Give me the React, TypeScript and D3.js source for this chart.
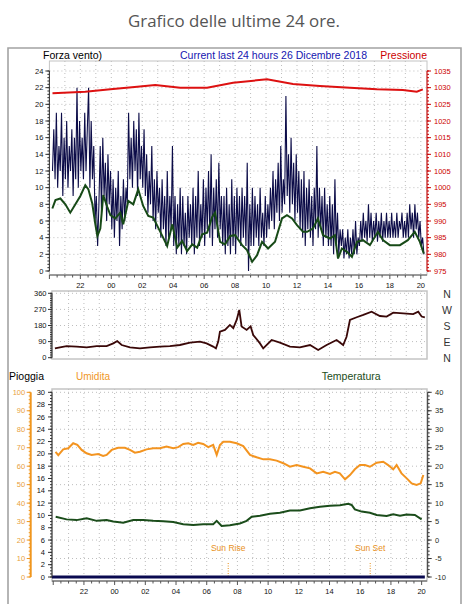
import React from "react";
import * as d3 from "d3";

const FONT = "'Liberation Sans', Arial, sans-serif";

// ---------- DATA ----------
const hourLabels = ["22", "00", "02", "04", "06", "08", "10", "12", "14", "16", "18", "20"];
const hourLabelTimes = [-2, 0, 2, 4, 6, 8, 10, 12, 14, 16, 18, 20];

const windTicks = [0, 2, 4, 6, 8, 10, 12, 14, 16, 18, 20, 22, 24];
const pressureTicks = [975, 980, 985, 990, 995, 1000, 1005, 1010, 1015, 1020, 1025, 1030, 1035];
const dirTicks = [0, 90, 180, 270, 360];
const compassLabels = ["N", "E", "S", "W", "N"]; // at 0, 90, 180, 270, 360
const rainTicks = [0, 2, 4, 6, 8, 10, 12, 14, 16, 18, 20, 22, 24, 26, 28, 30];
const humTicks = [0, 10, 20, 30, 40, 50, 60, 70, 80, 90, 100];
const tempTicks = [-10, -5, 0, 5, 10, 15, 20, 25, 30, 35, 40];

// wind gust, 5-minute samples starting at 20:12 (hour -3.8); one row per hour
const gustStart = -3.8;
const gustStep = 1 / 12;
const gustValues = [
  12, 17, 11, 19, 10, 15, 12, 19, 9, 16, 11, 18,
  10, 15, 12, 17, 9, 16, 11, 22, 10, 18, 12, 16,
  11, 19, 12, 17, 22, 10, 18, 11, 15, 6, 9, 3,
  8, 15, 7, 16, 9, 13, 6, 14, 8, 12, 5, 11,
  4, 10, 6, 12, 3, 9, 5, 11, 6, 10, 8, 19,
  11, 16, 10, 18, 12, 17, 9, 19, 11, 15, 10, 17,
  9, 14, 7, 12, 8, 15, 6, 11, 5, 12, 7, 10,
  4, 11, 5, 9, 3, 12, 4, 9, 5, 15, 3, 9,
  2, 8, 3, 10, 2, 9, 3, 7, 2, 9, 4, 8,
  3, 10, 2, 9, 4, 12, 3, 8, 4, 11, 3, 10,
  5, 12, 4, 14, 3, 10, 5, 11, 4, 13, 5, 9,
  3, 9, 2, 10, 3, 8, 2, 11, 3, 9, 2, 10,
  4, 9, 3, 10, 4, 9, 3, 13, 0, 8, 3, 10,
  3, 9, 4, 8, 3, 10, 4, 7, 3, 9, 4, 8,
  5, 10, 6, 12, 5, 11, 7, 13, 6, 15, 7, 11,
  8, 21, 9, 14, 7, 16, 8, 13, 6, 14, 7, 12,
  5, 11, 4, 12, 3, 10, 5, 11, 4, 9, 3, 10,
  5, 15, 4, 10, 5, 9, 3, 10, 4, 8, 3, 9,
  3, 8, 2, 11, 3, 7, 2, 5, 3, 5, 1.5, 4,
  2, 5, 1.5, 4, 2, 5, 2, 6, 2, 4, 3, 6,
  3.5, 7, 4, 6, 3.5, 8, 4, 7, 3.5, 6, 4, 7,
  3.5, 6, 4, 7, 3.5, 6, 4, 7, 4, 6, 4, 7,
  4, 6, 4, 7, 4, 6, 5, 7, 4, 6, 4, 7,
  4, 8, 5, 7, 4, 8, 5, 7, 4, 6, 3, 4,
  2,
];

const windAvgHours = [
  -3.81, -3.61, -3.29, -2.97, -2.65, -2.32, -2.0, -1.68, -1.48, -1.23, -1.03, -0.9, -0.71, -0.52, -0.26,
  -0.06, 0.26, 0.58, 0.77, 1.1, 1.42, 1.74, 2.06, 2.39, 2.71, 3.03, 3.35, 3.61, 3.94, 4.26, 4.58, 4.9,
  5.23, 5.55, 5.87, 6.19, 6.52, 6.71, 7.03, 7.35, 7.68, 8.0, 8.45, 8.77, 9.1, 9.42, 9.74, 10.13, 10.58,
  11.03, 11.35, 11.68, 12.0, 12.39, 12.65, 13.03, 13.35, 13.68, 14.13, 14.45, 14.65, 14.9, 15.23, 15.55,
  15.87, 16.26, 16.71, 17.23, 17.55, 18.0, 18.65, 19.16, 19.61, 19.94, 20.19,
];
const windAvgValues = [
  7.5, 8.5, 8.7, 8, 7, 8, 9, 10.3, 9.8, 8.1, 5.6, 4.2, 5.1, 9.1, 7.7,
  6.7, 6.3, 7, 5.6, 8.4, 8, 9.8, 7.8, 6.6, 6.4, 5.2, 4, 3, 5.6, 2.8, 3.6, 2.4,
  3.2, 2.8, 4.4, 4.6, 6.5, 7, 3.5, 3.2, 4.2, 4.3, 3.1, 2.5, 1.1, 1.9, 3.5, 2.7, 3.5,
  6.3, 6.7, 6.3, 5.5, 4.7, 4.7, 5.1, 6.3, 4.3, 3.9, 4.3, 1.5, 2.7, 2.3, 1.7,
  3.5, 3.7, 3.1, 4.7, 3.7, 3.1, 3.1, 3.7, 4.7, 3.5, 2.1,
];

const pressureHours = [-3.8, -1.68, -0.06, 1.68, 2.84, 4.45, 6.19, 7.87, 10.06, 11.74, 13.48, 15.42, 17.16, 18.84, 19.74, 20.13];
const pressureValues = [1028.3, 1028.8, 1029.5, 1030.3, 1030.8, 1030, 1030, 1031.5, 1032.5, 1031.1, 1030.5, 1030, 1029.5, 1029.3, 1028.8, 1029.5];

const dirHours = [
  -3.89, -3.56, -3.13, -2.48, -1.82, -1.17, -0.52, -0.09, 0.17, 0.46, 1.0, 1.65, 2.3, 2.95, 3.6, 4.25,
  4.91, 5.56, 5.99, 6.42, 6.6, 6.75, 6.86, 7.19, 7.51, 7.73, 7.95, 8.12, 8.27, 8.6, 8.86, 9.03, 9.47,
  9.68, 10.23, 10.77, 11.42, 12.07, 12.73, 13.26, 13.81, 14.46, 14.89, 15.11, 15.33, 15.77, 16.2, 16.74,
  17.28, 17.72, 18.15, 18.8, 19.45, 19.78, 20.0, 20.21,
];
const dirValues = [
  52, 58, 65, 62, 58, 65, 65, 80, 93, 71, 58, 52, 58, 62, 65, 71,
  84, 90, 80, 62, 52, 90, 145, 155, 183, 165, 211, 267, 175, 155, 175, 127, 80,
  52, 99, 84, 62, 58, 71, 43, 71, 99, 71, 117, 211, 226, 239, 257,
  233, 230, 252, 248, 244, 257, 230, 226,
];

const humHours = [
  -3.85, -3.67, -3.35, -3.02, -2.7, -2.43, -2.15, -1.83, -1.5, -1.07, -0.75, -0.52, -0.19, 0.23, 0.67,
  1.0, 1.32, 1.65, 2.08, 2.52, 2.95, 3.38, 3.82, 4.14, 4.47, 4.8, 5.12, 5.44, 5.77, 6.1, 6.42, 6.65,
  6.86, 7.08, 7.51, 7.95, 8.38, 8.82, 9.25, 9.69, 10.12, 10.55, 10.99, 11.42, 11.86, 12.29, 12.73,
  13.16, 13.59, 14.03, 14.35, 14.67, 15.01, 15.33, 15.65, 15.98, 16.31, 16.63, 17.07, 17.5, 17.82,
  18.15, 18.37, 18.69, 19.03, 19.35, 19.67, 19.94, 20.11,
];
const humValues = [
  67.8, 66, 69.1, 69.7, 72.4, 71.5, 68.8, 67, 66.1, 66.6, 65.5, 66.1, 68.8, 70, 70,
  68.8, 67.3, 67.8, 69.1, 69.7, 69.7, 70.6, 69.7, 70.3, 72, 72.4, 71.5, 72.7, 72, 70.3, 71.5, 66.1,
  71.5, 73.2, 73.2, 72.4, 70.9, 66.1, 64.8, 63.7, 63.7, 63, 61.6, 59.7, 60.6, 59.7, 58.8,
  56.1, 57, 55.8, 57, 56.1, 52.9, 55.2, 58.3, 60.6, 60.6, 59.7, 61.9, 62.4, 60.6,
  58.3, 60.6, 56.1, 53.4, 50.7, 49.8, 50.7, 55.2,
];

const tempHours = [
  -3.84, -3.13, -2.48, -1.82, -1.17, -0.52, -0.09, 0.56, 1.21, 1.86, 2.51, 3.17, 3.82, 4.47, 5.12,
  5.77, 6.42, 6.65, 6.97, 7.51, 8.16, 8.6, 8.93, 9.47, 10.12, 10.77, 11.42, 12.07, 12.73, 13.38,
  14.03, 14.68, 15.22, 15.44, 15.65, 16.09, 16.63, 17.07, 17.72, 18.15, 18.59, 19.02, 19.56, 20.0,
];
const tempValues = [
  6.3, 5.6, 5.4, 5.9, 5.2, 5.4, 5.0, 4.7, 5.4, 5.4, 5.2, 5.1, 4.9, 4.3, 4.1,
  4.3, 4.3, 5.2, 3.8, 4.0, 4.5, 5.2, 6.3, 6.6, 7.1, 7.4, 8.0, 8.0, 8.6, 9.0,
  9.3, 9.4, 9.8, 9.5, 8.3, 7.7, 7.4, 6.8, 6.5, 7.0, 6.6, 6.9, 6.8, 5.6,
];

const rainHours = [-4.08, 20.21];
const rainValues = [0, 0];

const sunLabels = ["Sun Rise", "Sun Set"];
const sunHours = [7.4, 16.65];

// ---------- LAYOUT / SCALES ----------
const xTop = d3.scaleLinear().domain([-4, 20.4]).range([49.4, 427]);
const xLow = d3.scaleLinear().domain([-4.08, 20.35]).range([52, 427]);
const yWind = d3.scaleLinear().domain([0, 24]).range([271, 71]);
const yPress = d3.scaleLinear().domain([975, 1035]).range([271, 71]);
const yDir = d3.scaleLinear().domain([0, 360]).range([357.7, 293.3]);
const yRain = d3.scaleLinear().domain([0, 30]).range([577, 392.3]);
const yHum = d3.scaleLinear().domain([0, 100]).range([577, 392.3]);
const yTemp = d3.scaleLinear().domain([-10, 40]).range([577, 392.3]);

const GRID = "#bdbdbd";
const FRAME = "#c4c4c4";

const zip = (a: number[], b: number[]) => a.map((v, i) => [v, b[i]] as [number, number]);

function linePath(pts: [number, number][], x: d3.ScaleLinear<number, number>, y: d3.ScaleLinear<number, number>) {
  return d3.line<[number, number]>().x((d) => x(d[0])).y((d) => y(d[1]))(pts) || "";
}

const hourGrid = d3.range(-3, 20.01, 1);
const halfHours = d3.range(-4, 20.41, 0.5);

function VGrid({ x, y1, y2 }: { x: d3.ScaleLinear<number, number>; y1: number; y2: number }) {
  return (
    <g>
      {hourGrid.map((h) => (
        <line key={h} x1={x(h)} x2={x(h)} y1={y1} y2={y2} stroke={GRID} strokeDasharray="1 3" />
      ))}
    </g>
  );
}

function HGrid({ ys, x1, x2 }: { ys: number[]; x1: number; x2: number }) {
  return (
    <g>
      {ys.map((y, i) => (
        <line key={i} x1={x1} x2={x2} y1={y} y2={y} stroke={GRID} strokeDasharray="1 3" />
      ))}
    </g>
  );
}

function XAxis({ x, y }: { x: d3.ScaleLinear<number, number>; y: number }) {
  const [d0, d1] = x.domain();
  return (
    <g>
      <line x1={x(d0)} x2={x(d1)} y1={y} y2={y} stroke="#555" />
      {halfHours
        .filter((h) => h >= d0 && h <= d1)
        .map((h) => (
          <line key={h} x1={x(h)} x2={x(h)} y1={y} y2={y + (Number.isInteger(h) && h % 2 === 0 ? 4 : 2.5)} stroke="#555" />
        ))}
      {hourLabelTimes.map((h, i) => (
        <text key={h} x={x(h)} y={y + 12.5} textAnchor="middle" fontSize={7.5} fill="#111">
          {hourLabels[i]}
        </text>
      ))}
    </g>
  );
}

function YAxis({
  x, ticks, minorStep, scale, side, color, labelColor, labelOffset, lineWidth = 1, tickLen = 4,
}: {
  x: number; ticks: number[]; minorStep: number; scale: d3.ScaleLinear<number, number>; side: "left" | "right";
  color: string; labelColor: string; labelOffset: number; lineWidth?: number; tickLen?: number;
}) {
  const [d0, d1] = scale.domain();
  const dir = side === "left" ? -1 : 1;
  const minors = d3.range(d0, d1 + minorStep / 2, minorStep);
  return (
    <g>
      <line x1={x} x2={x} y1={scale(d0)} y2={scale(d1)} stroke={color} strokeWidth={lineWidth} />
      {minors.map((v, i) => (
        <line key={"m" + i} x1={x} x2={x + dir * 2} y1={scale(v)} y2={scale(v)} stroke={color} />
      ))}
      {ticks.map((v) => (
        <line key={"t" + v} x1={x} x2={x + dir * tickLen} y1={scale(v)} y2={scale(v)} stroke={color} />
      ))}
      {ticks.map((v) => (
        <text
          key={"l" + v}
          x={x + dir * labelOffset}
          y={scale(v)}
          dy="0.35em"
          textAnchor={side === "left" ? "end" : "start"}
          fontSize={7.5}
          fill={labelColor}
        >
          {v}
        </text>
      ))}
    </g>
  );
}

export default function App() {
  const gustPts = gustValues.map((v, i) => [gustStart + i * gustStep, v] as [number, number]);
  return (
    <svg
      width={468}
      height={604}
      style={{ position: "absolute", left: 0, top: 0, background: "#fff" }}
      fontFamily={FONT}
    >
      <rect width={468} height={604} fill="#fff" />
      <text x={128} y={27} fontSize={16.5} fill="#555" fontFamily="'Open Sans', 'DejaVu Sans', sans-serif" textLength={212} lengthAdjust="spacingAndGlyphs">
        Grafico delle ultime 24 ore.
      </text>
      <path d="M8,605 V48 H461 V605" fill="none" stroke="#a3a3a3" strokeWidth={1.6} />

      {/* ---------- TOP PANEL ---------- */}
      <rect x={49.4} y={61} width={427 - 49.4} height={275 - 61} fill="none" stroke={FRAME} />
      <VGrid x={xTop} y1={61} y2={275} />
      <HGrid ys={windTicks.filter((t) => t > 0).map((t) => yWind(t))} x1={49.4} x2={427} />
      <text x={43} y={59} fontSize={10.5} fill="#000" textLength={59} lengthAdjust="spacingAndGlyphs">Forza vento)</text>
      <text x={180} y={59} fontSize={10.5} fill="#1515b0" textLength={187} lengthAdjust="spacingAndGlyphs">
        Current last 24 hours 26 Dicembre 2018
      </text>
      <text x={427} y={59} fontSize={10.5} fill="#cc0000" textAnchor="end">Pressione</text>

      <path d={linePath(gustPts, xTop, yWind)} fill="none" stroke="#0c0c48" strokeWidth={1.1} strokeLinejoin="miter" />
      <path d={linePath(zip(windAvgHours, windAvgValues), xTop, yWind)} fill="none" stroke="#174a17" strokeWidth={2} />
      <path d={linePath(zip(pressureHours, pressureValues), xTop, yPress)} fill="none" stroke="#dd1111" strokeWidth={2} />

      <YAxis x={49.4} ticks={windTicks} minorStep={0.4} scale={yWind} side="left" color="#333" labelColor="#111" labelOffset={6} />
      <YAxis x={427} ticks={pressureTicks} minorStep={1} scale={yPress} side="right" color="#cc0000" labelColor="#cc0000" labelOffset={7} />
      <XAxis x={xTop} y={275} />

      {/* ---------- MIDDLE PANEL ---------- */}
      <rect x={52} y={291} width={427 - 52} height={359 - 291} fill="none" stroke={FRAME} strokeWidth={1.5} />
      <VGrid x={xLow} y1={291} y2={359} />
      <HGrid ys={dirTicks.filter((t) => t > 0).map((t) => yDir(t))} x1={52} x2={427} />
      <path d={linePath(zip(dirHours, dirValues), xLow, yDir)} fill="none" stroke="#3a0808" strokeWidth={1.8} />
      <YAxis x={52} ticks={dirTicks} minorStep={10} scale={yDir} side="left" color="#333" labelColor="#111" labelOffset={5.5} />
      {dirTicks.map((t, i) => (
        <text key={t} x={447} y={yDir(t) + 1} dy="0.35em" textAnchor="middle" fontSize={10.5} fill="#333">
          {compassLabels[i]}
        </text>
      ))}

      {/* ---------- BOTTOM PANEL ---------- */}
      <text x={9} y={380} fontSize={10.5} fill="#000" textLength={35} lengthAdjust="spacingAndGlyphs">Pioggia</text>
      <text x={76} y={380} fontSize={10.5} fill="#f0961e" textLength={34} lengthAdjust="spacingAndGlyphs">Umidita</text>
      <text x={321.7} y={380} fontSize={10.5} fill="#1b4d1b" textLength={59} lengthAdjust="spacingAndGlyphs">Temperatura</text>

      <rect x={52} y={389} width={427 - 52} height={581 - 389} fill="none" stroke={FRAME} strokeWidth={1.5} />
      <VGrid x={xLow} y1={389} y2={581} />
      <HGrid ys={humTicks.filter((t) => t > 0).map((t) => yHum(t))} x1={52} x2={427} />

      {sunHours.map((h, i) => (
        <g key={h}>
          <line x1={xLow(h)} x2={xLow(h)} y1={563} y2={577} stroke="#e8901a" strokeDasharray="1 1.5" />
          <text x={xLow(h)} y={551} textAnchor="middle" fontSize={8.5} fill="#e8901a">
            {sunLabels[i]}
          </text>
        </g>
      ))}

      <path d={linePath(zip(humHours, humValues), xLow, yHum)} fill="none" stroke="#f39420" strokeWidth={2} />
      <path d={linePath(zip(tempHours, tempValues), xLow, yTemp)} fill="none" stroke="#1b4d1b" strokeWidth={2} />
      <path d={linePath(zip(rainHours, rainValues), xLow, yRain)} fill="none" stroke="#0a0a50" strokeWidth={3} />

      <YAxis x={30.7} ticks={humTicks} minorStep={2} scale={yHum} side="left" color="#f0961e" labelColor="#e8a040" labelOffset={5.5} lineWidth={2} />
      <YAxis x={52} ticks={rainTicks} minorStep={0.5} scale={yRain} side="left" color="#333" labelColor="#111" labelOffset={7} />
      <YAxis x={427.7} ticks={tempTicks} minorStep={1} scale={yTemp} side="right" color="#333" labelColor="#1d2d1d" labelOffset={7.3} />
      <XAxis x={xLow} y={581} />
    </svg>
  );
}
